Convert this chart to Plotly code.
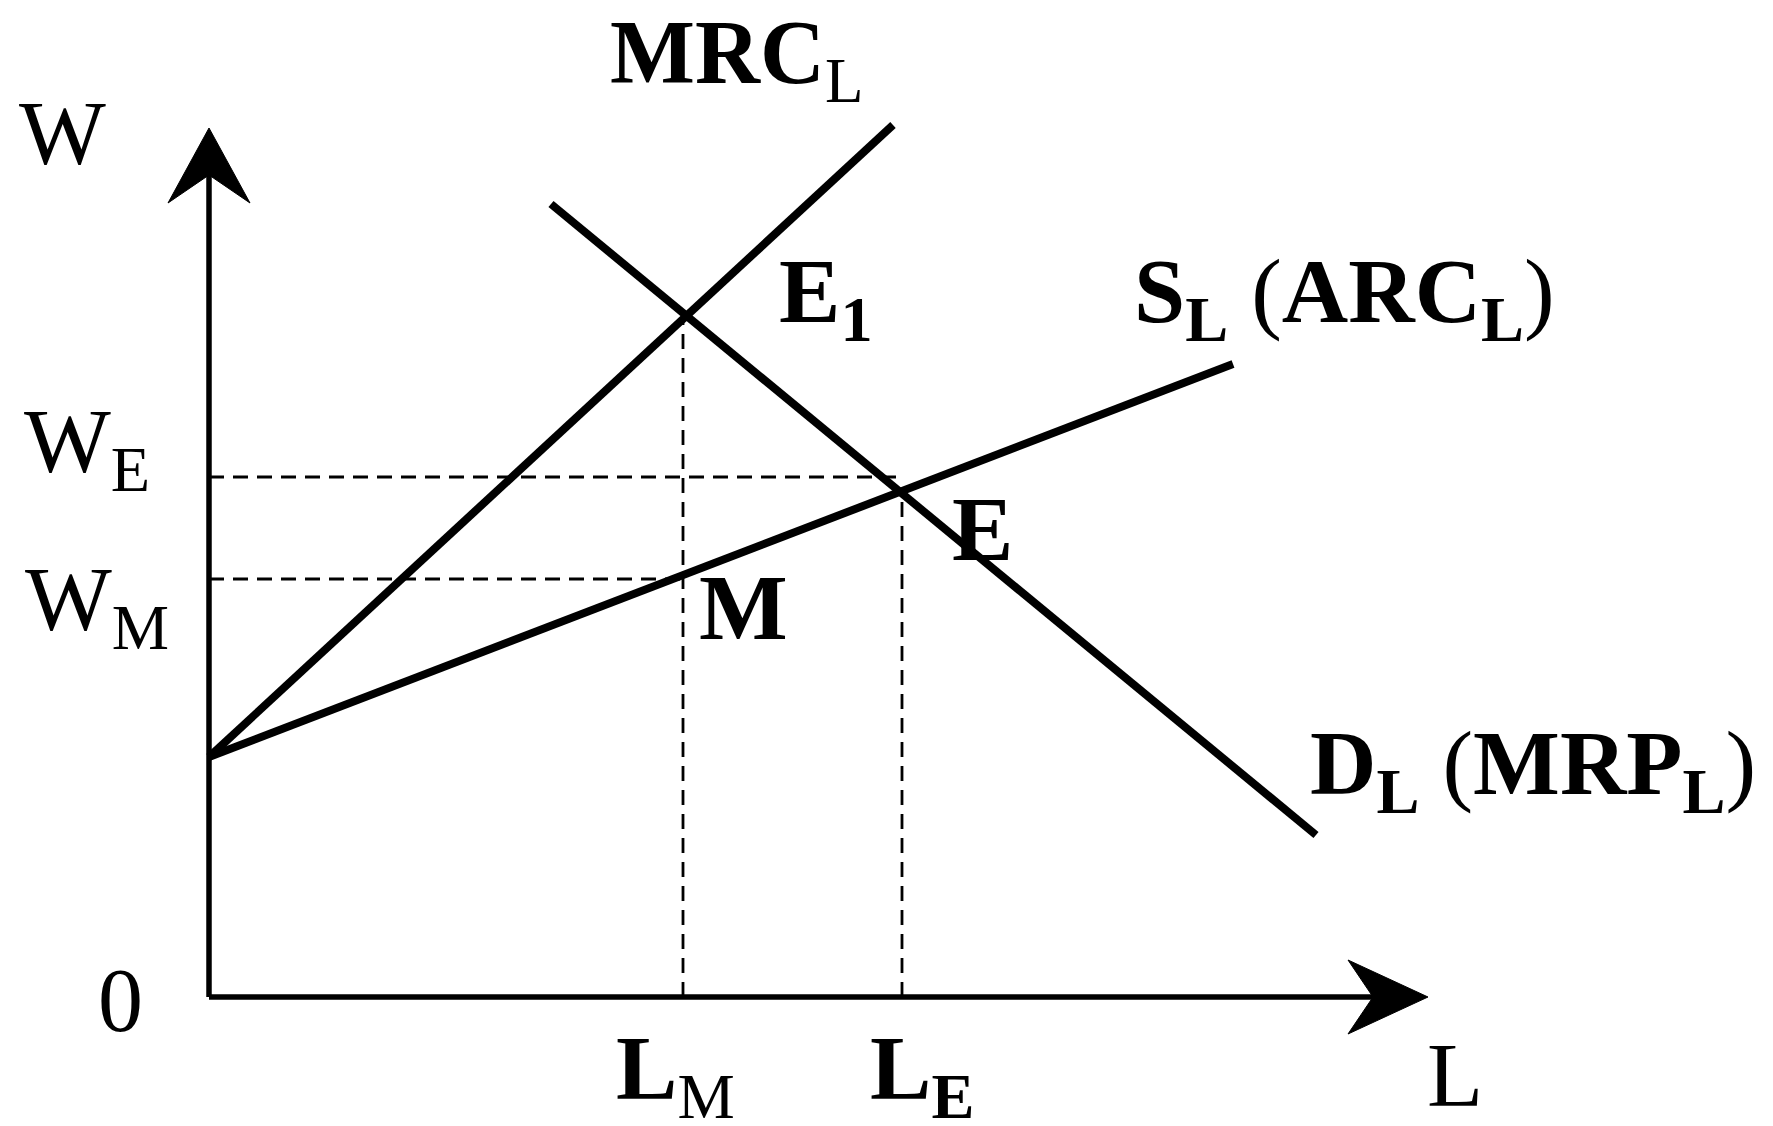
import plotly.graph_objects as go

# ---- data (diagram units) ----
W_INT = 2.40                       # common vertical intercept of MRC and S
mrc_L = [0.0, 6.84]
mrc_W = [W_INT, 8.72]
s_L = [0.0, 10.24]
s_W = [W_INT, 6.33]
d_L = [3.42, 11.07]
d_W = [7.93, 1.62]

L_M, W_M = 4.74, 4.18              # monopsony point M
E1_W = 6.81                        # MRC = MRP point
L_E, W_E = 6.93, 5.20              # competitive wage level line
E_W = 5.09                         # intersection S = D

y_axis_top = 8.30
x_axis_right = 11.70
y_arrow_L = [0.0, -0.41, 0.0, 0.41, 0.0]
y_arrow_W = [8.69, 7.94, 8.22, 7.94, 8.69]
x_arrow_L = [12.19, 11.39, 11.64, 11.39, 12.19]
x_arrow_W = [0.0, 0.37, 0.0, -0.37, 0.0]

# labels: (text, L, W, size)
labels = [
    ("W", -1.47, 8.64, 92),
    ("W<sub>E</sub>", -1.22, 5.50, 92),
    ("W<sub>M</sub>", -1.12, 3.92, 92),
    ("0", -0.89, -0.03, 90),
    ("L", 12.46, -0.78, 92),
    ("<b>MRC</b><sub>L</sub>", 5.27, 9.38, 90),
    ("<b>E</b><sub><b>1</b></sub>", 6.17, 7.00, 92),
    ("<b>S</b><sub><b>L</b></sub> (<b>ARC</b><sub><b>L</b></sub>)", 11.35, 7.00, 92),
    ("<b>E</b>", 7.73, 4.68, 92),
    ("<b>M</b>", 5.34, 3.90, 94),
    ("<b>D</b><sub><b>L</b></sub> (<b>MRP</b><sub><b>L</b></sub>)", 13.24, 2.28, 92),
    ("<b>L</b><sub>M</sub>", 4.66, -0.77, 92),
    ("<b>L</b><sub><b>E</b></sub>", 7.13, -0.77, 92),
]

FONT = "Liberation Serif, Times New Roman, serif"
BLACK = "#000000"

fig = go.Figure()

def line(x, y, width, dash=None):
    fig.add_trace(go.Scatter(
        x=x, y=y, mode="lines", hoverinfo="skip", showlegend=False,
        line=dict(color=BLACK, width=width, dash=dash)))

# dashed guides
DASH = "15px,9px"
line([0, L_E], [W_E, W_E], 2.8, DASH)
line([0, L_M], [W_M, W_M], 2.8, DASH)
line([L_M, L_M], [0, E1_W], 2.8, DASH)
line([L_E, L_E], [0, E_W], 2.8, DASH)

# axes
line([0, 0], [0, y_axis_top], 5.5)
line([0, x_axis_right], [0, 0], 5.5)
for ax, ay in ((y_arrow_L, y_arrow_W), (x_arrow_L, x_arrow_W)):
    fig.add_trace(go.Scatter(
        x=ax, y=ay, mode="lines", fill="toself", fillcolor=BLACK,
        line=dict(color=BLACK, width=1), hoverinfo="skip", showlegend=False))

# curves
line(mrc_L, mrc_W, 8)
line(s_L, s_W, 8)
line(d_L, d_W, 8)

for text, x, y, size in labels:
    fig.add_annotation(
        x=x, y=y, text=text, showarrow=False, xanchor="center", yanchor="middle",
        font=dict(family=FONT, size=size, color=BLACK))

# ranges offset to account for the page's default 8px body margin
fig.update_layout(
    width=1773, height=1126,
    margin=dict(l=0, r=0, t=0, b=0),
    paper_bgcolor="white", plot_bgcolor="white",
    xaxis=dict(range=[-2.01, 15.72], visible=False, fixedrange=True),
    yaxis=dict(range=[-1.37, 9.89], visible=False, fixedrange=True),
)

fig.write_html("out.html")
